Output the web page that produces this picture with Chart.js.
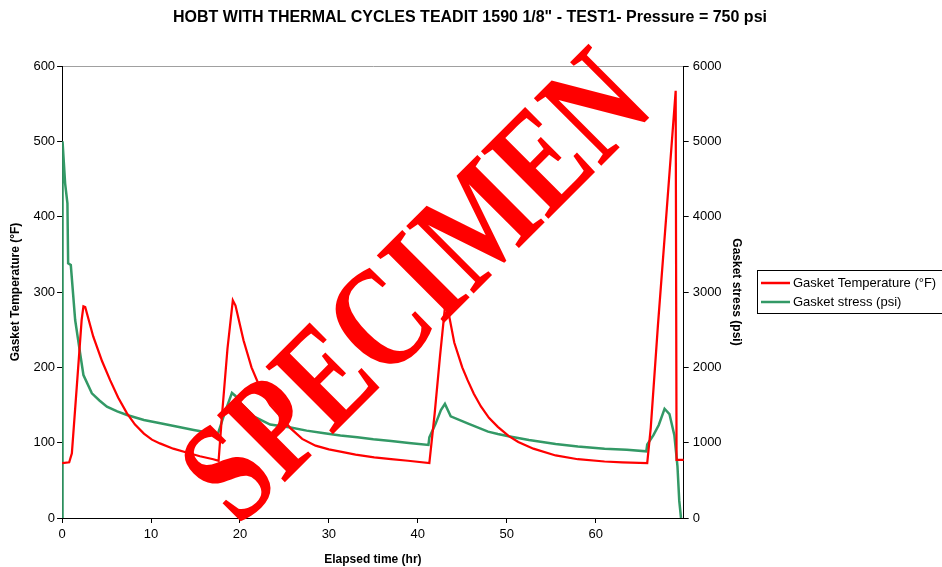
<!DOCTYPE html>
<html>
<head>
<meta charset="utf-8">
<script src="https://cdn.jsdelivr.net/npm/chart.js@4.4.0/dist/chart.umd.min.js"></script>
<style>
  body { margin: 0; background: #fff; }
  #wrap { width: 942px; height: 567px; }
</style>
</head>
<body>
<div id="wrap"><canvas id="graficoHobt"></canvas></div>
<script>
// datos (tiempo en horas)
var tempTime = [0, 0.8, 1.1, 1.65, 2.2, 2.4, 2.6, 3.5, 4.5, 5.4, 6.3, 7.3, 8.2, 9.2, 10.1, 11.0, 12.5, 14.0, 15.5, 17.0, 17.6,
  18.0, 18.6, 19.2, 19.5, 20.4, 21.3, 22.3, 23.4, 24.6, 25.7, 27.0, 28.5, 30.0, 31.3, 33.0, 35.1, 37.0, 38.9, 41.3,
  41.9, 42.5, 43.1, 43.4, 44.1, 45.0, 45.6, 46.3, 47.1, 48.0, 49.0, 50.2, 51.3, 53.0, 55.5, 58.0, 61.0, 63.0, 65.8,
  66.2, 67.0, 68.0, 69.0, 69.1, 70];
var tempValue = [73, 74, 86, 174, 263, 281, 280, 241, 208, 183, 160, 139, 124, 112, 104, 99, 92, 87, 82, 78, 76,
  139, 225, 289, 282, 236, 200, 172, 150, 134, 119, 105, 96, 91, 88, 84, 80.5, 78, 76, 73,
  139, 215, 285, 276, 233, 200, 183, 165, 148, 133, 121, 109, 101, 92, 83, 78, 75, 74, 73,
  120, 255, 410, 567, 77, 77];

var stressTime = [0, 0.05, 0.34, 0.6, 0.68, 0.98, 1.47, 2.03, 2.4, 3.35, 4.2, 5.04, 6.2, 7.3, 9.2, 11.05, 13.0, 14.8, 17.25, 17.5,
  18.3, 19.1, 19.5, 20.1, 21.6, 23.4, 25.7, 27.5, 29.5, 31.3, 33.2, 35.0, 37.0, 39.0, 41.2,
  41.3, 42.0, 42.6, 43.05, 43.7, 45.6, 47.9, 49.0, 50.2, 52.5, 55.5, 58.0, 61.0, 63.5, 65.7,
  65.8, 66.5, 67.1, 67.75, 68.3, 68.85, 69.2, 69.4, 69.6];
var stressValue = [0, 5000, 4443, 4178, 3381, 3358, 2628, 2186, 1898, 1655, 1560, 1478, 1415, 1367, 1300, 1257, 1210, 1168, 1115, 1110,
  1400, 1660, 1620, 1522, 1345, 1240, 1200, 1160, 1124, 1095, 1071, 1045, 1022, 995, 969,
  1070, 1250, 1434, 1515, 1350, 1257, 1146, 1115, 1085, 1035, 982, 950, 920, 905, 885,
  975, 1100, 1235, 1450, 1380, 1100, 690, 230, 0];

var timeTicks = [0, 10, 20, 30, 40, 50, 60];
var tempTicks = [0, 100, 200, 300, 400, 500, 600];
var stressTicks = [0, 1000, 2000, 3000, 4000, 5000, 6000];

var rojo = '#FF0000';
var verde = '#339966';
var fuente = '"Liberation Sans", Arial, sans-serif';

function pares(xs, ys) {
  return xs.map(function (x, i) { return { x: x, y: ys[i] }; });
}
function fijar(lista) {
  return function (s) { s.ticks = lista.map(function (v) { return { value: v }; }); };
}
function texto(v) { return String(v); }

Chart.defaults.font.family = fuente;
Chart.defaults.color = '#000';

// titulo y leyenda dibujados a mano
var extras = {
  id: 'extras',
  afterDraw: function (chart) {
    var c = chart.ctx;
    c.save();
    c.fillStyle = '#000';
    c.font = 'bold 16px ' + fuente;
    c.textAlign = 'center';
    c.textBaseline = 'middle';
    c.fillText('HOBT WITH THERMAL CYCLES TEADIT 1590 1/8" - TEST1- Pressure = 750 psi', 470, 18);

    c.strokeStyle = '#000';
    c.lineWidth = 1;
    c.strokeRect(757.5, 270.5, 220, 43);
    c.lineWidth = 2.5;
    c.strokeStyle = rojo;
    c.beginPath(); c.moveTo(761, 283); c.lineTo(790, 283); c.stroke();
    c.strokeStyle = verde;
    c.beginPath(); c.moveTo(761, 302); c.lineTo(790, 302); c.stroke();
    c.font = '13px ' + fuente;
    c.textAlign = 'left';
    c.fillText('Gasket Temperature (°F)', 793, 283);
    c.fillText('Gasket stress (psi)', 793, 302);
    c.restore();
  }
};

// marca de agua
var marca = {
  id: 'marca',
  afterDraw: function (chart) {
    var c = chart.ctx;
    c.save();
    c.translate(414, 285);
    c.rotate(-45 * Math.PI / 180);
    c.scale(1, 1.3);
    c.fillStyle = rojo;
    c.font = 'bold 112px "Liberation Serif", "Times New Roman", serif';
    c.textAlign = 'center';
    c.textBaseline = 'alphabetic';
    c.fillText('SPECIMEN', 0, 37);
    c.restore();
  }
};

var ctx = document.getElementById('graficoHobt').getContext('2d');
var grafico = new Chart(ctx, {
  type: 'line',
  data: {
    datasets: [{
      label: 'Gasket Temperature (°F)',
      data: pares(tempTime, tempValue),
      borderColor: rojo,
      borderWidth: 2.25,
      pointRadius: 0,
      tension: 0,
      yAxisID: 'y'
    }, {
      label: 'Gasket stress (psi)',
      data: pares(stressTime, stressValue),
      borderColor: verde,
      borderWidth: 2.5,
      pointRadius: 0,
      tension: 0,
      yAxisID: 'y1'
    }]
  },
  options: {
    responsive: true,
    maintainAspectRatio: false,
    animation: false,
    devicePixelRatio: 1,
    layout: { padding: { left: 8, right: 192, top: 66, bottom: 0 } },
    plugins: {
      legend: { display: false },
      tooltip: { enabled: false },
      title: { display: false }
    },
    scales: {
      x: {
        type: 'linear',
        min: 0,
        max: 69.9,
        afterBuildTicks: fijar(timeTicks),
        ticks: { font: { size: 13 }, padding: 4, callback: texto },
        grid: { drawOnChartArea: false, tickLength: 5, tickColor: '#000' },
        border: { color: '#000', width: 1 },
        title: { display: true, text: 'Elapsed time (hr)', font: { size: 12, weight: 'bold' }, padding: { top: 6, bottom: 0 } }
      },
      y: {
        position: 'left',
        min: 0,
        max: 600,
        afterBuildTicks: fijar(tempTicks),
        ticks: { font: { size: 13 }, padding: 2, callback: texto },
        grid: {
          color: function (c) { return c.tick && c.tick.value === 600 ? '#a0a0a0' : 'rgba(0,0,0,0)'; },
          tickLength: 5, tickColor: '#000'
        },
        border: { color: '#000', width: 1 },
        title: { display: true, text: 'Gasket Temperature (°F)', font: { size: 12, weight: 'bold' }, padding: { top: 0, bottom: 9 } }
      },
      y1: {
        position: 'right',
        min: 0,
        max: 6000,
        afterBuildTicks: fijar(stressTicks),
        ticks: { font: { size: 13 }, padding: 4, callback: texto },
        grid: { drawOnChartArea: false, tickLength: 5, tickColor: '#000' },
        border: { color: '#000', width: 1 },
        title: { display: true, text: 'Gasket stress (psi)', font: { size: 12, weight: 'bold' }, padding: { top: 6, bottom: 4 } }
      }
    }
  },
  plugins: [extras, marca]
});
</script>
</body>
</html>
